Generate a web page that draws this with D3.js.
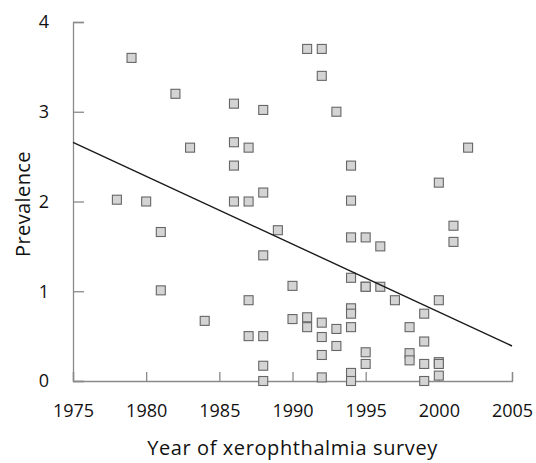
<!DOCTYPE html>
<html>
<head>
<meta charset="utf-8">
<script src="https://cdn.jsdelivr.net/npm/d3@7"></script>
<style>
  html, body { margin: 0; padding: 0; background: #fff; }
  svg text { font-family: "Open Sans", "Lato", sans-serif; fill: #111; }
</style>
</head>
<body>
<svg id="chart" width="536" height="463"></svg>
<script>
// Survey year and xerophthalmia prevalence for each survey
const years = [
  1978, 1979, 1980, 1981, 1981, 1982, 1983, 1984,
  1986, 1986, 1986, 1986, 1987, 1987, 1987, 1987,
  1988, 1988, 1988, 1988, 1988, 1988, 1989,
  1990, 1990, 1991, 1991, 1991, 1992, 1992, 1992, 1992, 1992, 1992,
  1993, 1993, 1993, 1994, 1994, 1994, 1994, 1994, 1994, 1994, 1994, 1994,
  1995, 1995, 1995, 1995, 1995, 1996, 1996, 1997,
  1998, 1998, 1998, 1999, 1999, 1999, 1999,
  2000, 2000, 2000, 2000, 2000, 2001, 2001, 2002
];
const prevalence = [
  2.02, 3.60, 2.00, 1.66, 1.01, 3.20, 2.60, 0.67,
  3.09, 2.66, 2.40, 2.00, 2.60, 2.00, 0.90, 0.50,
  3.02, 2.10, 1.40, 0.50, 0.17, 0.00, 1.68,
  1.06, 0.69, 3.70, 0.71, 0.60, 3.70, 3.40, 0.65, 0.49, 0.29, 0.04,
  3.00, 0.58, 0.39, 2.40, 2.01, 1.15, 0.81, 0.75, 0.60, 0.09, 0.00, 1.60,
  1.60, 1.05, 0.32, 0.19, 1.05, 1.50, 1.05, 0.90,
  0.60, 0.31, 0.23, 0.75, 0.44, 0.19, 0.00,
  2.21, 0.90, 0.21, 0.19, 0.06, 1.73, 1.55, 2.60
];
// Fitted trend line end points
const trendYears = [1975, 2005];
const trendValues = [2.66, 0.39];

const xTicks = [1975, 1980, 1985, 1990, 1995, 2000, 2005];
const yTicks = [0, 1, 2, 3, 4];

const margin = { left: 73, right: 24, top: 22, bottom: 82 };
const width = 536, height = 463;

const svg = d3.select("#chart");
const x = d3.scaleLinear().domain([1975, 2005]).range([margin.left, width - margin.right]);
const y = d3.scaleLinear().domain([0, 4]).range([height - margin.bottom, margin.top]);

const axisColor = "#8a8a8a";

// X axis with ticks pointing inward
const xAxis = svg.append("g")
  .attr("transform", `translate(0,${y(0)})`)
  .call(d3.axisBottom(x).tickValues(xTicks).tickFormat(d3.format("d")).tickSize(-9).tickPadding(23));
xAxis.select(".domain").attr("stroke", axisColor).attr("stroke-width", 1.3);
xAxis.selectAll(".tick line").attr("stroke", axisColor).attr("stroke-width", 1.3);
xAxis.selectAll(".tick text").attr("font-size", 18).attr("fill", "#111");

// Y axis with ticks pointing inward
const yAxis = svg.append("g")
  .attr("transform", `translate(${x(1975)},0)`)
  .call(d3.axisLeft(y).tickValues(yTicks).tickFormat(d3.format("d")).tickSize(-11).tickPadding(24));
yAxis.select(".domain").attr("stroke", axisColor).attr("stroke-width", 1.3);
yAxis.selectAll(".tick line").attr("stroke", axisColor).attr("stroke-width", 1.3);
yAxis.selectAll(".tick text").attr("font-size", 18).attr("fill", "#111");

// Survey points
const points = years.map((yr, i) => ({ year: yr, value: prevalence[i] }));
const s = 9;
svg.append("g").selectAll("rect")
  .data(points)
  .join("rect")
  .attr("x", d => x(d.year) - s / 2)
  .attr("y", d => y(d.value) - s / 2)
  .attr("width", s)
  .attr("height", s)
  .attr("fill", "#d4d4d4")
  .attr("stroke", "#666")
  .attr("stroke-width", 1.1);

// Regression line
svg.append("line")
  .attr("x1", x(trendYears[0])).attr("y1", y(trendValues[0]))
  .attr("x2", x(trendYears[1])).attr("y2", y(trendValues[1]))
  .attr("stroke", "#1a1a1a")
  .attr("stroke-width", 1.4);

// Axis titles
svg.append("text")
  .attr("x", (x(1975) + x(2005)) / 2)
  .attr("y", 455)
  .attr("text-anchor", "middle")
  .attr("font-size", 20)
  .attr("letter-spacing", 0.6)
  .text("Year of xerophthalmia survey");

svg.append("text")
  .attr("transform", `translate(30,204) rotate(-90)`)
  .attr("text-anchor", "middle")
  .attr("font-size", 20)
  .attr("letter-spacing", 0.4)
  .text("Prevalence");
</script>
</body>
</html>
